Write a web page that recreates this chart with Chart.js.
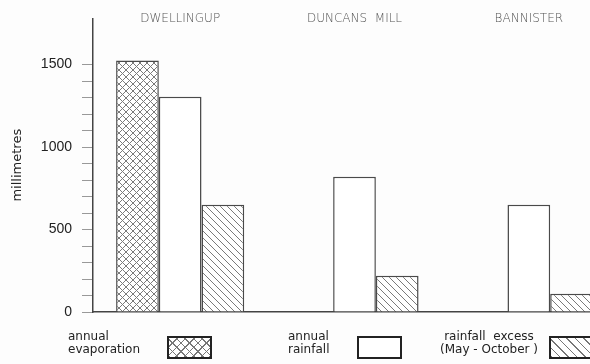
<!DOCTYPE html>
<html>
<head>
<meta charset="utf-8">
<script src="https://cdn.jsdelivr.net/npm/chart.js@4/dist/chart.umd.min.js"></script>
<style>
  body { margin: 0; background: #fff; }
  #wrap { position: relative; width: 590px; height: 364px; overflow: hidden; background: #fdfdfd; }
  #myChart { position: absolute; left: 0; top: 0; }
  .lg-text { position: absolute; font-family: 'DejaVu Sans', sans-serif; font-size: 12px; line-height: 13px; color: #222; white-space: pre; }
  .lg-box { position: absolute; width: 41px; height: 19px; border: 2px solid #222; background: #fff; }
</style>
</head>
<body>
<div id="wrap">
  <canvas id="myChart" width="620" height="364"></canvas>
</div>
<script>
var sites = ['DWELLINGUP', 'DUNCANS  MILL', 'BANNISTER'];
var evaporation = [1525, null, null];
var rainfall = [1305, 820, 650];
var excess = [650, 220, 110];
var yTicks = [0, 100, 200, 300, 400, 500, 600, 700, 800, 900, 1000, 1100, 1200, 1300, 1400, 1500];
var seriesNames = [['annual', 'evaporation'], ['annual', 'rainfall'], ['rainfall  excess', '(May - October )']];

var ctx = document.getElementById('myChart').getContext('2d');

// hatch fills for the bars
function makePattern(cross) {
    var c = document.createElement('canvas');
    c.width = 7; c.height = 7;
    var g = c.getContext('2d');
    g.fillStyle = '#fff';
    g.fillRect(0, 0, 7, 7);
    g.strokeStyle = '#7a7a7a';
    g.lineWidth = 1;
    g.beginPath();
    g.moveTo(-1, -1); g.lineTo(8, 8);
    g.moveTo(-1, 6); g.lineTo(1, 8);
    g.moveTo(6, -1); g.lineTo(8, 1);
    if (cross) {
        g.moveTo(-1, 8); g.lineTo(8, -1);
        g.moveTo(-1, 1); g.lineTo(1, -1);
        g.moveTo(6, 8); g.lineTo(8, 6);
    }
    g.stroke();
    return ctx.createPattern(c, 'repeat');
}

var barStyle = { borderColor: '#4a4a4a', borderWidth: 1.5, borderSkipped: 'bottom', categoryPercentage: 0.735, barPercentage: 1 };

var myChart = new Chart(ctx, {
    type: 'bar',
    data: {
        labels: sites,
        datasets: [
            Object.assign({ label: seriesNames[0].join(' '), data: evaporation, backgroundColor: makePattern(true) }, barStyle),
            Object.assign({ label: seriesNames[1].join(' '), data: rainfall, backgroundColor: '#fff' }, barStyle),
            Object.assign({ label: seriesNames[2].join(' '), data: excess, backgroundColor: makePattern(false) }, barStyle)
        ]
    },
    options: {
        responsive: false,
        animation: false,
        devicePixelRatio: 1,
        layout: { padding: { left: 8, right: 4, top: 7, bottom: 44 } },
        plugins: {
            legend: { display: false },
            tooltip: { enabled: false }
        },
        scales: {
            x: {
                position: 'bottom',
                z: 1,
                afterFit: function (s) { s.height = 8; },
                ticks: { display: false },
                grid: { display: false, drawTicks: false },
                border: { display: true, color: '#444', width: 1.5 }
            },
            x2: {
                type: 'category',
                position: 'top',
                offset: true,
                afterFit: function (s) { s.height = 8; },
                ticks: { mirror: true, font: { family: 'DejaVu Sans', size: 12, weight: 200 }, color: '#555', padding: -7 },
                grid: { display: false, drawTicks: false },
                border: { display: false }
            },
            y: {
                min: 0,
                max: 1780,
                afterBuildTicks: function (s) { s.ticks = yTicks.map(function (v) { return { value: v }; }); },
                afterFit: function (s) { s.width = 85; },
                ticks: {
                    autoSkip: false,
                    padding: 10,
                    color: '#222',
                    font: { family: 'Liberation Sans', size: 14 },
                    callback: function (v) { return v % 500 === 0 ? String(v) : ''; }
                },
                grid: { drawOnChartArea: false, drawTicks: true, tickLength: 11, color: '#999' },
                border: { display: true, color: '#444', width: 1.5 },
                title: { display: true, text: 'millimetres', color: '#222', font: { family: 'DejaVu Sans', size: 13 }, padding: { top: 2, bottom: 4 } }
            }
        }
    }
});

// legend in html, text to the left of each swatch
var legendPos = [
    { text: 68, box: 167, fill: 'repeating-linear-gradient(45deg, #777 0 1px, transparent 1px 6px), repeating-linear-gradient(-45deg, #777 0 1px, #fff 1px 6px)' },
    { text: 288, box: 357, fill: '#fff' },
    { text: 440, box: 549, fill: 'repeating-linear-gradient(45deg, #777 0 1px, #fff 1px 6px)' }
];
var wrap = document.getElementById('wrap');
seriesNames.forEach(function (lines, i) {
    var t = document.createElement('div');
    t.className = 'lg-text';
    t.textContent = lines.join('\n');
    t.style.left = legendPos[i].text + 'px';
    t.style.top = '330px';
    if (i === 2) t.style.textAlign = 'center';
    wrap.appendChild(t);
    var b = document.createElement('div');
    b.className = 'lg-box';
    b.style.left = legendPos[i].box + 'px';
    b.style.top = '336px';
    b.style.background = legendPos[i].fill;
    wrap.appendChild(b);
});
</script>
</body>
</html>
